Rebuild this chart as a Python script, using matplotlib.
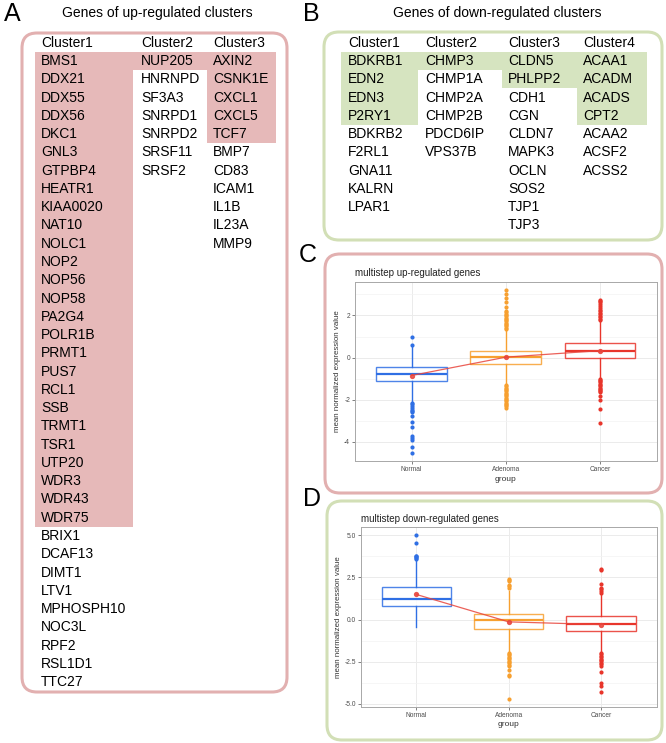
import matplotlib
matplotlib.use("Agg")
import matplotlib.pyplot as plt
from matplotlib.patches import FancyBboxPatch, Rectangle
from matplotlib.ticker import MultipleLocator

plt.rcParams['font.family'] = ['Liberation Sans', 'DejaVu Sans']

# ---------------- data ----------------
up_cluster1 = ["BMS1", "DDX21", "DDX55", "DDX56", "DKC1", "GNL3", "GTPBP4", "HEATR1",
               "KIAA0020", "NAT10", "NOLC1", "NOP2", "NOP56", "NOP58", "PA2G4", "POLR1B",
               "PRMT1", "PUS7", "RCL1", "SSB", "TRMT1", "TSR1", "UTP20", "WDR3", "WDR43",
               "WDR75", "BRIX1", "DCAF13", "DIMT1", "LTV1", "MPHOSPH10", "NOC3L", "RPF2",
               "RSL1D1", "TTC27"]
up_cluster2 = ["NUP205", "HNRNPD", "SF3A3", "SNRPD1", "SNRPD2", "SRSF11", "SRSF2"]
up_cluster3 = ["AXIN2", "CSNK1E", "CXCL1", "CXCL5", "TCF7", "BMP7", "CD83", "ICAM1",
               "IL1B", "IL23A", "MMP9"]
up_highlight = [26, 1, 5]

down_cluster1 = ["BDKRB1", "EDN2", "EDN3", "P2RY1", "BDKRB2", "F2RL1", "GNA11", "KALRN", "LPAR1"]
down_cluster2 = ["CHMP3", "CHMP1A", "CHMP2A", "CHMP2B", "PDCD6IP", "VPS37B"]
down_cluster3 = ["CLDN5", "PHLPP2", "CDH1", "CGN", "CLDN7", "MAPK3", "OCLN", "SOS2", "TJP1", "TJP3"]
down_cluster4 = ["ACAA1", "ACADM", "ACADS", "CPT2", "ACAA2", "ACSF2", "ACSS2"]
down_highlight = [4, 1, 2, 4]

groups = ["Normal", "Adenoma", "Cancer"]

# panel C : multistep up-regulated genes
up_q1 = [-1.13, -0.31, -0.03]
up_med = [-0.76, 0.03, 0.32]
up_q3 = [-0.47, 0.33, 0.68]
up_whislo = [-2.10, -1.27, -0.98]
up_whishi = [0.50, 1.29, 1.72]
up_mean = [-0.85, 0.02, 0.33]
up_fliers = [
    [0.60, 0.99, -2.16, -2.22, -2.31, -2.38, -2.47, -2.52, -2.58, -2.79, -3.07, -3.28,
     -3.70, -3.81, -3.92, -4.24, -4.52],
    [3.20, 3.02, 2.82, 2.62, 2.42, 2.20, 2.14, 2.08, 2.02, 1.96, 1.90, 1.84, 1.78, 1.72,
     1.66, 1.60, 1.54, 1.48, 1.42, 1.36, -1.30, -1.36, -1.42, -1.48, -1.54, -1.60, -1.66,
     -1.72, -1.78, -1.84, -1.90, -1.96, -2.02, -2.08, -2.14, -2.20, -2.26, -2.32, -2.39],
    [2.75, 2.70, 2.62, 2.55, 2.45, 2.36, 2.28, 2.20, 2.12, 2.05, 1.98, 1.92, 1.85, 1.80,
     -1.00, -1.06, -1.12, -1.18, -1.24, -1.30, -1.36, -1.42, -1.48, -1.54, -1.60, -1.65,
     -1.81, -2.00, -2.43, -3.12],
]

# panel D : multistep down-regulated genes
dn_q1 = [0.83, -0.55, -0.70]
dn_med = [1.25, -0.02, -0.24]
dn_q3 = [1.92, 0.34, 0.20]
dn_whislo = [-0.46, -1.90, -1.95]
dn_whishi = [3.50, 1.70, 1.50]
dn_mean = [1.49, -0.14, -0.30]
dn_fliers = [
    [3.60, 3.65, 3.70, 3.75, 3.80, 4.55, 5.00],
    [1.90, 2.00, 2.05, 2.30, 2.35, 2.40, -1.98, -2.05, -2.12, -2.20, -2.28, -2.36, -2.44,
     -2.52, -2.60, -2.68, -2.78, -2.98, -3.27, -3.35, -4.70],
    [1.60, 1.70, 1.80, 1.85, 2.10, 2.95, 3.00, -2.00, -2.08, -2.16, -2.24, -2.32, -2.40,
     -2.48, -2.56, -2.64, -2.75, -3.10, -3.80, -3.95, -4.30],
]

# ---------------- styling ----------------
W, H = 666, 743
PINK_FILL = "#e6b9b9"
PINK_EDGE = "#e2b0b0"
GREEN_FILL = "#d6e4c0"
GREEN_EDGE = "#d2dfb6"
COLS = ["#2f6fe4", "#f7a030", "#e8352b"]
MEAN_COL = "#e8453c"
TXT = 10
ROW0, STEP, HEAD = 61, 18.27, 43

fig = plt.figure(figsize=(W / 100, H / 100), dpi=100)
ax0 = fig.add_axes([0, 0, 1, 1])
ax0.set_xlim(0, W)
ax0.set_ylim(H, 0)
ax0.axis("off")


def rbox(x0, y0, x1, y1, edge):
    p = FancyBboxPatch((x0, y0), x1 - x0, y1 - y0,
                       boxstyle="round,pad=0,rounding_size=15",
                       fc="white", ec=edge, lw=2.2, zorder=1)
    ax0.add_patch(p)


def table(cols, highlights, xs, edges, fill):
    for j, (names, nh) in enumerate(zip(cols, highlights)):
        if nh > 0:
            top = ROW0 - STEP / 2
            ax0.add_patch(Rectangle((edges[j], top), edges[j + 1] - edges[j], nh * STEP,
                                    fc=fill, ec="none", zorder=2))
        ax0.text(xs[j], HEAD, "Cluster%d" % (j + 1), fontsize=TXT, va="center",
                 ha="left", zorder=3)
        for i, nm in enumerate(names):
            ax0.text(xs[j], ROW0 + i * STEP, nm, fontsize=TXT, va="center",
                     ha="left", zorder=3)


# Panel A
ax0.text(12, 14, "A", fontsize=18, ha="center", va="center")
ax0.text(157, 13, "Genes of up-regulated clusters", fontsize=10, ha="center", va="center")
rbox(22, 33, 287, 692, PINK_EDGE)
table([up_cluster1, up_cluster2, up_cluster3], up_highlight,
      [41, 141, 213], [35, 133, 207, 276], PINK_FILL)

# Panel B
ax0.text(311, 14, "B", fontsize=18, ha="center", va="center")
ax0.text(497, 13, "Genes of down-regulated clusters", fontsize=10, ha="center", va="center")
rbox(324, 32, 662, 240, GREEN_EDGE)
table([down_cluster1, down_cluster2, down_cluster3, down_cluster4], down_highlight,
      [348, 425, 508, 583], [341, 418, 502, 577, 647], GREEN_FILL)

# Panel C / D frames
ax0.text(308, 255, "C", fontsize=18, ha="center", va="center")
rbox(325, 254, 662, 493, PINK_EDGE)
ax0.text(312, 499, "D", fontsize=18, ha="center", va="center")
rbox(327, 501, 662, 740, GREEN_EDGE)


def px_axes(l, t, r, b):
    return fig.add_axes([l / W, (H - b) / H, (r - l) / W, (b - t) / H])


def boxpanel(ax, q1, med, q3, wlo, whi, mean, fliers, title, major, minor, fmt):
    pos = [1, 2, 3]
    allv = [v for f in fliers for v in f] + wlo + whi
    lo, hi = min(allv), max(allv)
    pad = 0.05 * (hi - lo)
    ax.set_ylim(lo - pad, hi + pad)
    ax.set_xlim(0.4, 3.6)
    ax.yaxis.set_major_locator(MultipleLocator(major))
    ax.yaxis.set_minor_locator(MultipleLocator(minor))
    ax.grid(True, which="major", color="#ebebeb", lw=0.7, zorder=0)
    ax.grid(True, which="minor", axis="y", color="#f3f3f3", lw=0.5, zorder=0)
    ax.set_axisbelow(True)
    for i in range(3):
        st = [dict(q1=q1[i], med=med[i], q3=q3[i], whislo=wlo[i], whishi=whi[i],
                   fliers=fliers[i], mean=mean[i])]
        c = COLS[i]
        ax.bxp(st, positions=[pos[i]], widths=0.75, showcaps=False, patch_artist=True,
               boxprops=dict(facecolor="white", edgecolor=c, lw=1.0, alpha=0.85),
               whiskerprops=dict(color=c, lw=1.0),
               medianprops=dict(color=c, lw=1.6),
               flierprops=dict(marker="o", markerfacecolor=c, markeredgecolor="none",
                               markersize=3.0),
               manage_ticks=False)
    ax.plot(pos, mean, color=MEAN_COL, lw=0.9, alpha=0.85, marker="o", ms=2.8, zorder=5)
    ax.set_xticks(pos)
    ax.set_xticklabels(groups)
    ax.yaxis.set_major_formatter(matplotlib.ticker.FormatStrFormatter(fmt))
    ax.tick_params(labelsize=4.8, colors="#4d4d4d", length=2, width=0.5, pad=1.5)
    ax.tick_params(which="minor", length=0)
    for s in ax.spines.values():
        s.set_color("#a8a8a8")
        s.set_linewidth(0.7)
    ax.set_xlabel("group", fontsize=6, color="#333333", labelpad=2)
    ax.set_ylabel("mean normalized expression value", fontsize=5.7, color="#333333",
                  labelpad=2)
    ax.set_title(title, fontsize=7, loc="left", pad=4, color="#222222")


axC = px_axes(355, 282, 656.7, 461)
boxpanel(axC, up_q1, up_med, up_q3, up_whislo, up_whishi, up_mean, up_fliers,
         "multistep up-regulated genes", 2, 1, "%d")
axD = px_axes(361, 527.3, 656.5, 706.7)
boxpanel(axD, dn_q1, dn_med, dn_q3, dn_whislo, dn_whishi, dn_mean, dn_fliers,
         "multistep down-regulated genes", 2.5, 1.25, "%.1f")

fig.savefig("out.png", dpi=100)
